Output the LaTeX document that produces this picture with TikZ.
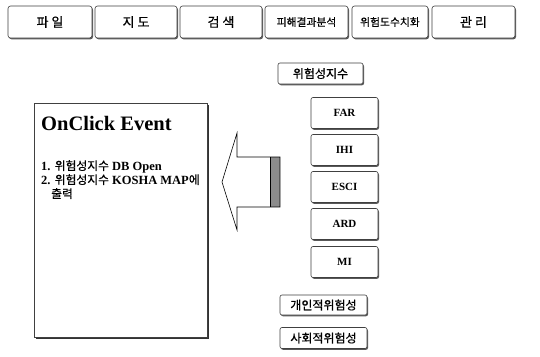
\documentclass[tikz,border=0pt]{standalone}
\usepackage{fontspec}
\setmainfont{Liberation Serif}
\newfontfamily\kr[FakeBold=0.6]{Noto Sans CJK KR}
\usetikzlibrary{shadows}
\newcommand{\krtxt}[1]{{\mdseries\kr\fontsize{11.8}{11.8}\selectfont #1}}
\begin{document}
\begin{tikzpicture}[x=1pt,y=-1pt,
  frame/.style={draw=black!75, line width=0.6pt, fill=white, inner sep=0pt,
    drop shadow={shadow xshift=1pt, shadow yshift=-1.3pt, fill=black!65, opacity=1}},
  btn/.style={frame, rounded corners=2.5pt, minimum height=32pt, font=\kr\fontsize{13}{13}\selectfont},
  btnsm/.style={btn, font=\kr\fontsize{10.8}{10.8}\selectfont},
  idx/.style={frame, rounded corners=2pt, minimum width=67pt, minimum height=31pt, font=\bfseries\fontsize{11}{11}\selectfont},
  tag/.style={frame, rounded corners=2pt, minimum height=21pt, font=\kr\fontsize{12}{12}\selectfont},
  panel/.style={draw=black!75, line width=0.6pt, fill=white,
    drop shadow={shadow xshift=2pt, shadow yshift=-2pt, fill=black!80, opacity=1}},
  arrowshape/.style={draw=black, line width=0.6pt, line join=miter}
]
\useasboundingbox (0,0) rectangle (540,356);
\fill[white] (0,0) rectangle (540,356);

% top menu
\node[btn, minimum width=84pt] (b1) at (50,22) {파 일};
\node[btn, minimum width=82pt] (b2) at (136,22) {지 도};
\node[btn, minimum width=82pt] (b3) at (221,22) {검 색};
\node[btnsm, minimum width=83pt] (b4) at (306.5,22) {피해결과분석};
\node[btnsm, minimum width=76pt] (b5) at (390,22) {위험도수치화};
\node[btn, minimum width=83pt] (b6) at (473.5,22) {관 리};

% right column
\node[tag, minimum width=85pt] (risk) at (320.5,73.5) {위험성지수};
\node[idx] (far) at (344.5,113) {FAR};
\node[idx] (ihi) at (344.5,150) {IHI};
\node[idx] (esci) at (344.5,187) {ESCI};
\node[idx] (ard) at (344.5,224) {ARD};
\node[idx] (mi) at (344.5,262) {MI};
\node[tag, minimum width=87pt, minimum height=20pt] (ind) at (323.5,305) {개인적위험성};
\node[tag, minimum width=87pt] (soc) at (323.5,338) {사회적위험성};

% left panel
\node[panel, minimum width=173pt, minimum height=234pt, inner sep=0pt] (pan) at (120.5,220) {};
\node[anchor=base west, inner sep=0pt, font=\bfseries\fontsize{20.5}{20.5}\selectfont] (title) at (41,130) {OnClick Event};
\node[anchor=north west, inner sep=0pt, align=left, font=\bfseries\fontsize{12.5}{14}\selectfont] (items) at (41,160)
  {1. \krtxt{위험성지수} DB Open\\
   2. \krtxt{위험성지수} KOSHA MAP\krtxt{에}\\
   \hspace*{10pt}\krtxt{출력}};

% big arrow
\fill[black!45] (270,157) rectangle (280,207);
\draw[arrowshape] (222,182) -- (237,133) -- (237,157) -- (280,157) -- (280,207) -- (237,207) -- (237,230) -- cycle;
\draw[line width=0.6pt] (270,157) -- (270,207);
\end{tikzpicture}
\end{document}
